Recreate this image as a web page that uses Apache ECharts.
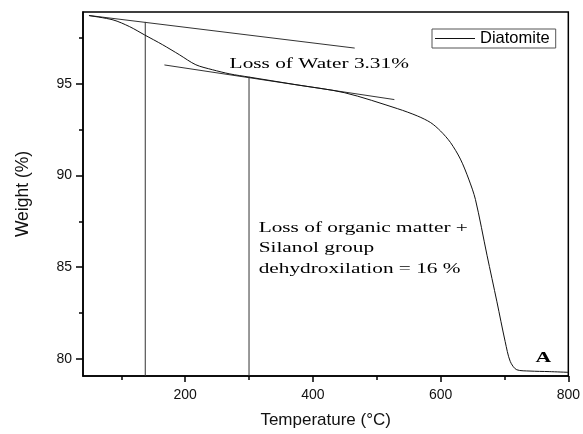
<!DOCTYPE html>
<html><head><meta charset="utf-8">
<script src="https://cdn.jsdelivr.net/npm/echarts@6/dist/echarts.min.js"></script>
<style>html,body{margin:0;padding:0;background:#fff}#c{width:583px;height:434px}</style>
</head><body><div id="c"></div>
<script>
// ---- data ----
const temperature = [49.8, 87, 113, 136.4, 164.8, 190.8, 216.7, 242.6, 270, 299.6, 372, 450, 532.8, 564, 584.5, 600, 615.6, 631, 644, 654.5, 672.7, 688.2, 701.1, 709, 719.3, 740, 770, 800];
const weight =      [98.73, 98.5, 98.13, 97.68, 97.14, 96.6, 96.05, 95.78, 95.55, 95.38, 94.97, 94.52, 93.65, 93.25, 92.89, 92.43, 91.8, 90.9, 89.81, 88.7, 85.65, 83.11, 80.94, 79.86, 79.40, 79.33, 79.3, 79.26];
const waterTangentT = [49.3, 465.5];
const waterTangentW = [98.74, 96.96];
const organicTangentT = [167.5, 527.6];
const organicTangentW = [96.04, 94.15];
const markerT = [137.5, 300];
const markerTopW = [98.39, 95.4];
const xMajorTicks = [200, 400, 600, 800];
const xMinorTicks = [100, 300, 500, 700];
const yMajorTicks = [80, 85, 90, 95];
const yMinorTicks = [82.5, 87.5, 92.5, 97.5];
const xRange = [40, 800];
const yRange = [79.06, 98.93];
const notes = [
  {text: 'Loss of Water 3.31%', t: 269.6, w: 96.08, bold: false},
  {text: 'Loss of organic matter +', t: 315.1, w: 87.12, bold: false},
  {text: 'Silanol group', t: 315.1, w: 86.02, bold: false},
  {text: 'dehydroxilation = 16 %', t: 315.1, w: 84.92, bold: false},
  {text: 'A', t: 760.8, w: 80.02, bold: true}
];

const chart = echarts.init(document.getElementById('c'));
const sans = 'Liberation Sans, Arial, sans-serif';
const helperLine = {type: 'line', symbol: 'none', silent: true, lineStyle: {color: '#333', width: 1}, xAxisIndex: 0, yAxisIndex: 0};
const pairs = (a, b) => a.map((v, i) => [v, b[i]]);

const series = [
  {name: 'Diatomite', type: 'line', symbol: 'none', smooth: 0.3, data: pairs(temperature, weight),
   lineStyle: {color: '#111', width: 1}, itemStyle: {color: '#111'}, z: 5},
  Object.assign({}, helperLine, {name: 'waterTangent', data: pairs(waterTangentT, waterTangentW)}),
  Object.assign({}, helperLine, {name: 'organicTangent', data: pairs(organicTangentT, organicTangentW)})
];
markerT.forEach((t, i) => {
  series.push(Object.assign({}, helperLine, {name: 'marker' + i, data: [[t, markerTopW[i]], [t, yRange[0]]]}));
});

chart.setOption({
  animation: false,
  backgroundColor: '#fff',
  grid: {left: 83, right: 11, top: 12, bottom: 56, show: true, borderColor: '#000', borderWidth: 1.5, backgroundColor: 'transparent'},
  legend: {
    data: [{name: 'Diatomite', icon: 'rect'}],
    left: 432, top: 29, itemWidth: 40, itemHeight: 1, itemGap: 5,
    padding: [1, 6, 1, 3], borderColor: '#555', borderWidth: 1,
    textStyle: {fontFamily: sans, fontSize: 16.5, color: '#000', padding: [0, 0, 0, 0]}
  },
  xAxis: [
    {type: 'value', min: xRange[0], max: xRange[1], position: 'bottom',
     name: 'Temperature (°C)', nameLocation: 'middle', nameGap: 36,
     nameTextStyle: {fontFamily: sans, fontSize: 17, color: '#111'},
     axisLine: {show: true, lineStyle: {color: '#000', width: 1.5}},
     axisTick: {show: true, inside: false, length: 6, customValues: xMajorTicks, lineStyle: {color: '#000', width: 1.5}},
     axisLabel: {show: true, customValues: xMajorTicks, margin: 12, fontFamily: sans, fontSize: 14, color: '#111'},
     splitLine: {show: false}},
    {type: 'value', min: xRange[0], max: xRange[1], position: 'bottom',
     axisLine: {show: false},
     axisTick: {show: true, length: 4, customValues: xMinorTicks, lineStyle: {color: '#000', width: 1.5}},
     axisLabel: {show: false}, splitLine: {show: false}}
  ],
  yAxis: [
    {type: 'value', min: yRange[0], max: yRange[1], position: 'left',
     name: 'Weight (%)', nameLocation: 'middle', nameGap: 51, nameRotate: 90,
     nameTextStyle: {fontFamily: sans, fontSize: 17.5, color: '#111'},
     axisLine: {show: true, lineStyle: {color: '#000', width: 1.5}},
     axisTick: {show: true, length: 7, customValues: yMajorTicks, lineStyle: {color: '#000', width: 1.5}},
     axisLabel: {show: true, customValues: yMajorTicks, margin: 11, fontFamily: sans, fontSize: 14, color: '#111'},
     splitLine: {show: false}},
    {type: 'value', min: yRange[0], max: yRange[1], position: 'left',
     axisLine: {show: false},
     axisTick: {show: true, length: 4, customValues: yMinorTicks, lineStyle: {color: '#000', width: 1.5}},
     axisLabel: {show: false}, splitLine: {show: false}}
  ],
  series: series
});

const graphics = notes.map(n => {
  const p = chart.convertToPixel({xAxisIndex: 0, yAxisIndex: 0}, [n.t, n.w]);
  return {
    type: 'text', x: p[0], y: p[1], scaleX: n.bold ? 1.45 : 1.42, scaleY: 1, silent: true,
    style: {text: n.text, x: 0, y: 0, align: n.bold ? 'center' : 'left', verticalAlign: 'middle',
      font: (n.bold ? 'bold ' : '') + '15px "Liberation Serif", "Times New Roman", serif', fill: '#000'}
  };
});
chart.setOption({graphic: graphics});
</script>
</body></html>
